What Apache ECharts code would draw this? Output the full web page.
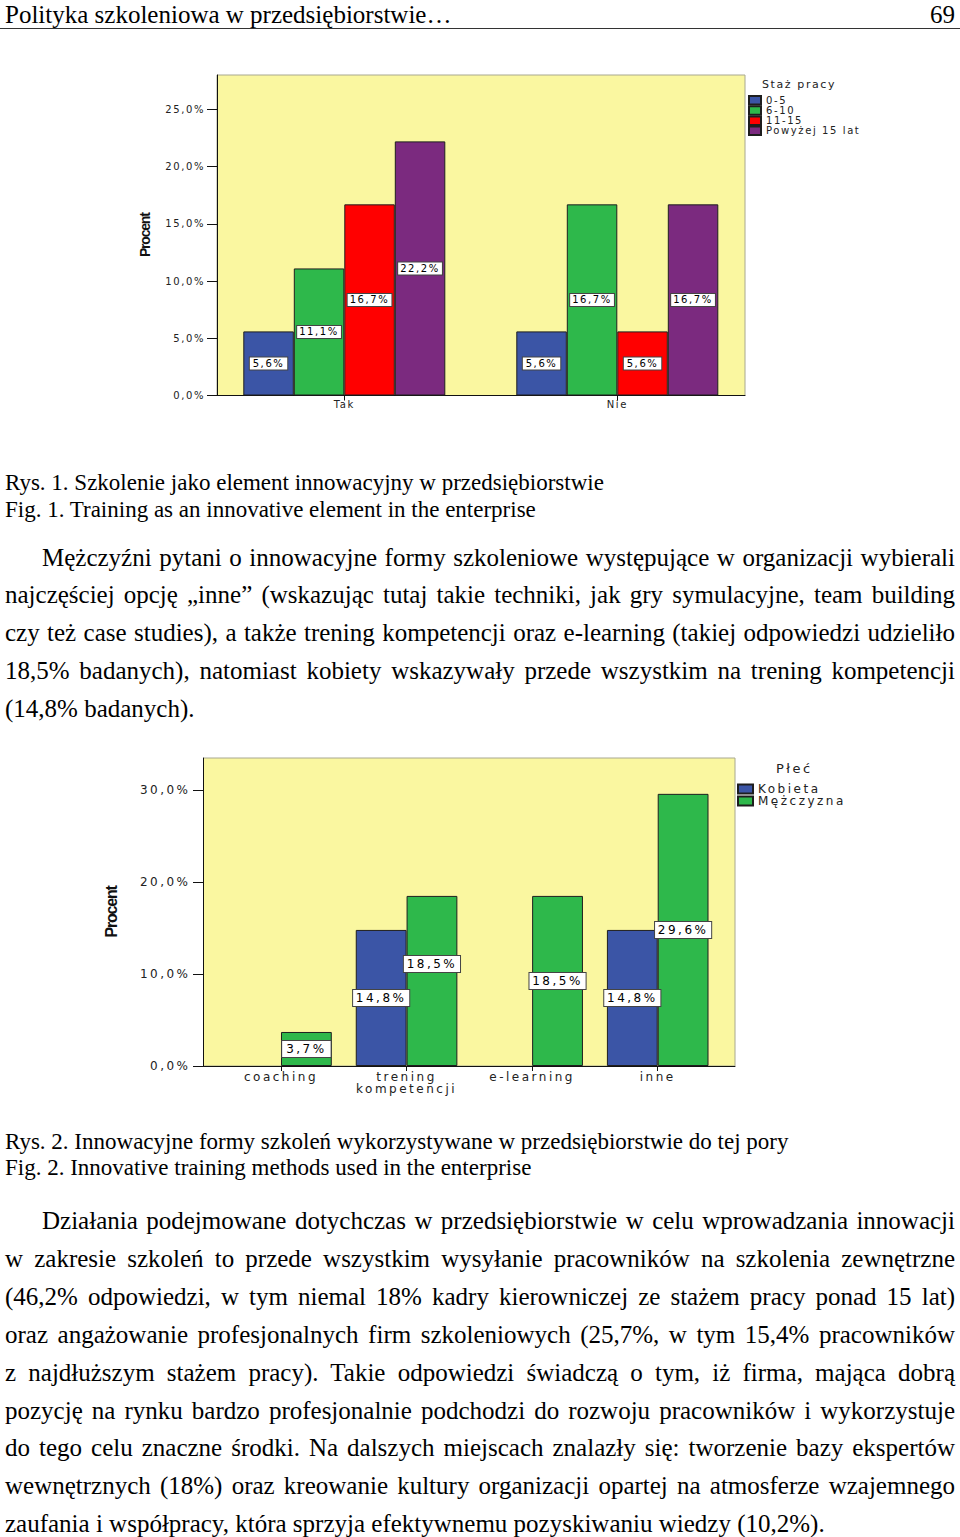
<!DOCTYPE html>
<html><head><meta charset="utf-8">
<script src="https://cdn.jsdelivr.net/npm/echarts@6/dist/echarts.min.js"></script>
<style>
html,body{margin:0;padding:0;background:#fff;}
body{width:960px;height:1537px;position:relative;overflow:hidden;}
.t{position:absolute;left:5px;width:950px;font-family:'Liberation Serif','Times New Roman',serif;color:#000;}
.b{font-size:25px;line-height:25px;text-align:justify;text-align-last:justify;}
.last{text-align:left;text-align-last:left;}
.ind{left:42px;width:913px;}
.cap{font-size:23px;line-height:23px;white-space:nowrap;}
.hd{font-size:25px;line-height:25px;white-space:nowrap;top:2px;}
#rule{position:absolute;left:0;top:28px;width:960px;height:0;border-top:1.5px solid #333;}
#c1{position:absolute;left:0;top:40px;width:960px;height:390px;letter-spacing:1.6px;}
#c2{position:absolute;left:0;top:740px;width:960px;height:370px;letter-spacing:2.5px;}
#c1 text[style*="bold"],#c2 text[style*="bold"]{letter-spacing:-1.2px;}
</style></head>
<body>
<div class="t hd">Polityka szkoleniowa w przedsiębiorstwie…</div>
<div class="t hd" style="text-align:right;">69</div>
<div id="rule"></div>

<div id="c1"></div>

<div class="t cap" style="top:470.5px">Rys. 1. Szkolenie jako element innowacyjny w przedsiębiorstwie</div>
<div class="t cap" style="top:497.5px">Fig. 1. Training as an innovative element in the enterprise</div>

<div class="t b ind" style="top:544.5px">Mężczyźni pytani o innowacyjne formy szkoleniowe występujące w organizacji wybierali</div>
<div class="t b" style="top:581.5px">najczęściej opcję „inne” (wskazując tutaj takie techniki, jak gry symulacyjne, team building</div>
<div class="t b" style="top:619.5px">czy też case studies), a także trening kompetencji oraz e-learning (takiej odpowiedzi  udzieliło</div>
<div class="t b" style="top:657.5px">18,5% badanych), natomiast kobiety wskazywały przede wszystkim na trening  kompetencji</div>
<div class="t b last" style="top:695.5px">(14,8% badanych).</div>

<div id="c2"></div>

<div class="t cap" style="top:1129.5px">Rys. 2. Innowacyjne formy szkoleń wykorzystywane w przedsiębiorstwie do tej pory</div>
<div class="t cap" style="top:1155.5px">Fig. 2. Innovative training methods used in the enterprise</div>

<div class="t b ind" style="top:1207.5px">Działania podejmowane dotychczas w przedsiębiorstwie w celu wprowadzania innowacji</div>
<div class="t b" style="top:1245.5px">w zakresie szkoleń to przede wszystkim wysyłanie pracowników na szkolenia zewnętrzne</div>
<div class="t b" style="top:1283.5px">(46,2% odpowiedzi, w tym niemal 18% kadry kierowniczej ze stażem pracy ponad 15 lat)</div>
<div class="t b" style="top:1321.5px">oraz angażowanie profesjonalnych firm szkoleniowych (25,7%, w tym 15,4% pracowników</div>
<div class="t b" style="top:1359.5px">z najdłuższym stażem pracy). Takie odpowiedzi świadczą o tym, iż firma, mająca dobrą</div>
<div class="t b" style="top:1397.5px">pozycję na rynku bardzo profesjonalnie podchodzi do rozwoju pracowników i wykorzystuje</div>
<div class="t b" style="top:1434.5px">do tego celu znaczne środki. Na dalszych miejscach znalazły się: tworzenie bazy ekspertów</div>
<div class="t b" style="top:1472.5px">wewnętrznych (18%) oraz  kreowanie kultury organizacji opartej na atmosferze wzajemnego</div>
<div class="t b last" style="top:1510.5px">zaufania i współpracy, która sprzyja efektywnemu pozyskiwaniu wiedzy (10,2%).</div>

<script>
// ---- Chart 1 data ----
const cat1 = ['Tak', 'Nie'];
const names1 = ['0-5', '6-10', '11-15', 'Powyżej 15 lat'];
const staz_0_5 = [5.6, 5.6];
const staz_6_10 = [11.1, 16.7];
const staz_11_15 = [16.7, 5.6];
const staz_15plus = [22.2, 16.7];
const ticks1 = [0, 5, 10, 15, 20, 25];
const yMax1 = 28;

// ---- Chart 2 data ----
const cat2 = ['coaching', 'trening\nkompetencji', 'e-learning', 'inne'];
const names2 = ['Kobieta', 'Mężczyzna'];
const kobieta = [0, 14.8, 0, 14.8];
const mezczyzna = [3.7, 18.5, 18.5, 29.6];
const ticks2 = [0, 10, 20, 30];
const yMax2 = 33.5;

const YEL = '#faf7a0';
const COLORS1 = ['#3b55a6', '#2eb84b', '#ff0000', '#7b2a7f'];
const COLORS2 = ['#3b55a6', '#2eb84b'];
const FONT = 'DejaVu Sans';
const fmt = v => v.toFixed(1).replace('.', ',') + '%';

function baseAxes(o) {
  return {
    xAxis: [
      { gridIndex: 0, type: 'value', min: 0, max: 1, axisLabel: { show: false }, axisTick: { show: false }, splitLine: { show: false },
        axisLine: { show: true, lineStyle: { color: '#111', width: 1 } } },
      { gridIndex: 1, type: 'category', data: o.cats,
        axisLine: { show: false },
        axisTick: { show: true, alignWithLabel: true, length: 5, lineStyle: { color: '#111' } },
        axisLabel: { color: '#222', fontFamily: FONT, fontSize: o.fs, lineHeight: o.lh, margin: o.xMargin } }
    ],
    yAxis: [
      { gridIndex: 0, type: 'value', min: 0, max: o.max,
        axisLine: { show: true, lineStyle: { color: '#111' } },
        axisTick: { show: true, length: o.tickLen, customValues: o.ticks, lineStyle: { color: '#111' } },
        splitLine: { show: false },
        axisLabel: { customValues: o.ticks, formatter: fmt, color: '#222', fontFamily: FONT, fontSize: o.fs, margin: o.yMargin },
        name: 'Procent', nameLocation: 'middle', nameRotate: 90, nameGap: o.nameGap,
        nameTextStyle: { fontFamily: 'Liberation Sans', fontWeight: 'bold', fontSize: o.nameFs, color: '#111' } },
      { gridIndex: 1, type: 'value', min: 0, max: o.max, show: false }
    ]
  };
}

// Chart 1
(function () {
  const ch = echarts.init(document.getElementById('c1'), null, { renderer: 'svg' });
  const vals = [staz_0_5, staz_6_10, staz_11_15, staz_15plus];
  const ax = baseAxes({ cats: cat1, fs: 10, lh: 10, xMargin: 4, max: yMax1, ticks: ticks1, tickLen: 10, yMargin: 12, nameGap: 65, nameFs: 14 });
  ch.setOption({
    animation: false,
    grid: [
      { left: 217, top: 35, width: 528, height: 320.5, show: true, backgroundColor: YEL, borderColor: '#a8a890', borderWidth: 1 },
      { left: 207.8, top: 35, width: 546, height: 320.5 }
    ],
    xAxis: ax.xAxis, yAxis: ax.yAxis,
    title: { text: 'Staż pracy', left: 762, top: 39, padding: 0, textStyle: { fontFamily: FONT, fontSize: 11, fontWeight: 'normal', color: '#222' } },
    legend: { orient: 'vertical', left: 748, top: 55, padding: 0, itemWidth: 12, itemHeight: 8.5, itemGap: -0.3, icon: 'rect', data: names1,
      textStyle: { fontFamily: FONT, fontSize: 10, lineHeight: 9, color: '#222' } },
    series: names1.map((n, i) => ({
      name: n, type: 'bar', xAxisIndex: 1, yAxisIndex: 1, data: vals[i], barWidth: 50.5, barGap: '0%',
      itemStyle: { color: COLORS1[i], borderColor: '#1e1e1e', borderWidth: 1 },
      label: { show: true, position: 'inside', formatter: p => fmt(p.value), backgroundColor: '#fff', borderColor: '#444', borderWidth: 1,
        padding: [1, 6], color: '#000', fontFamily: FONT, fontSize: 10, lineHeight: 10 }
    }))
  });
})();

// Chart 2
(function () {
  const ch = echarts.init(document.getElementById('c2'), null, { renderer: 'svg' });
  const vals = [kobieta, mezczyzna];
  const ax = baseAxes({ cats: cat2, fs: 12, lh: 12, xMargin: 5, max: yMax2, ticks: ticks2, tickLen: 10.5, yMargin: 13, nameGap: 84, nameFs: 16 });
  ch.setOption({
    animation: false,
    grid: [
      { left: 203.5, top: 18, width: 531.5, height: 308, show: true, backgroundColor: YEL, borderColor: '#a8a890', borderWidth: 1 },
      { left: 218.2, top: 18, width: 502.3, height: 308 }
    ],
    xAxis: ax.xAxis, yAxis: ax.yAxis,
    title: { text: 'Płeć', left: 776, top: 22, padding: 0, textStyle: { fontFamily: FONT, fontSize: 13, fontWeight: 'normal', color: '#222' } },
    legend: { orient: 'vertical', left: 737, top: 43, padding: 0, itemWidth: 15, itemHeight: 9, itemGap: 0, icon: 'rect', data: names2,
      textStyle: { fontFamily: FONT, fontSize: 12, lineHeight: 10, color: '#222' } },
    series: names2.map((n, i) => ({
      name: n, type: 'bar', xAxisIndex: 1, yAxisIndex: 1, barWidth: 50.8, barGap: '0%',
      data: vals[i].map((v, j) => (v > 0)
        ? { value: v, label: (i === 1 && j === 1) ? { offset: [0, -17] } : {} }
        : { value: v, label: { show: false }, itemStyle: { borderWidth: 0 } }),
      itemStyle: { color: COLORS2[i], borderColor: '#1e1e1e', borderWidth: 1 },
      label: { show: true, position: 'inside', formatter: p => fmt(p.value), backgroundColor: '#fff', borderColor: '#444', borderWidth: 1,
        padding: [2.5, 9], color: '#000', fontFamily: FONT, fontSize: 12, lineHeight: 11 }
    }))
  });
})();
</script>
</body></html>
